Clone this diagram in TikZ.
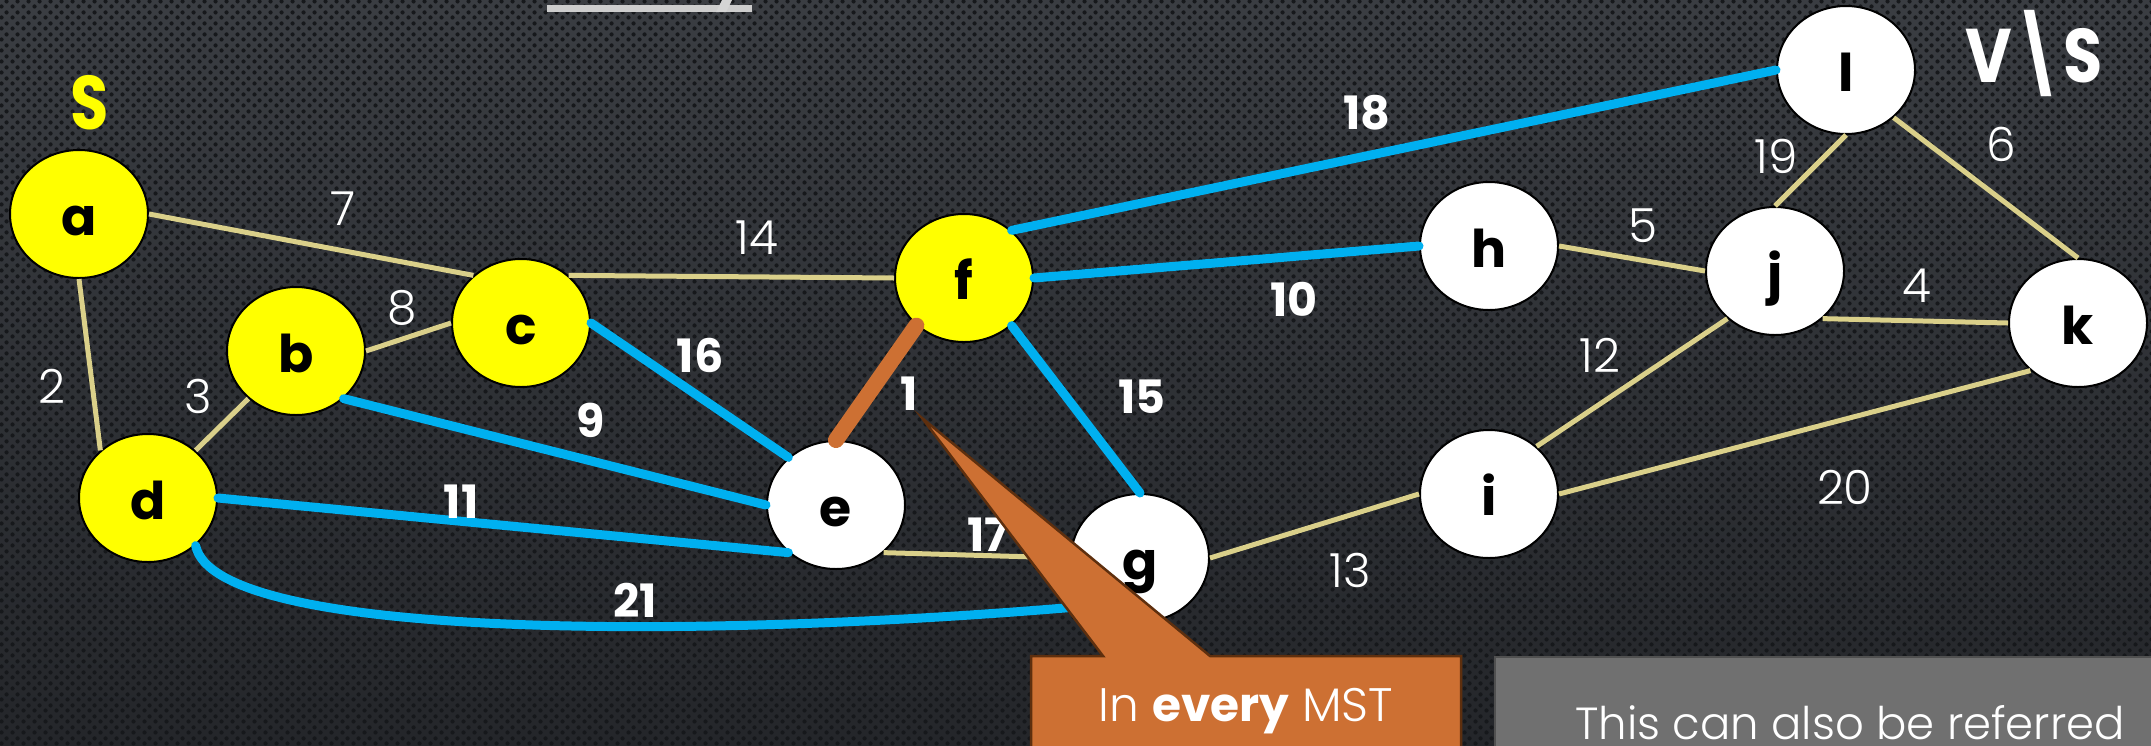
\documentclass[tikz,border=0pt]{standalone}
\usepackage{fontspec}
\setmainfont{Poppins}
\newfontfamily\lightfont{Poppins Light}
\usetikzlibrary{shapes.geometric,patterns}

\definecolor{bgtop}{RGB}{58,61,66}
\definecolor{bgbot}{RGB}{36,38,42}
\definecolor{holes}{RGB}{22,24,27}
\definecolor{tanline}{RGB}{218,208,138}
\definecolor{mstblue}{RGB}{0,176,240}
\definecolor{forced}{RGB}{205,112,51}
\definecolor{forcededge}{RGB}{94,47,14}
\definecolor{boxgray}{RGB}{112,112,112}
\definecolor{boxedge}{RGB}{80,80,80}
\definecolor{rule}{RGB}{205,205,205}
\definecolor{vyellow}{RGB}{255,255,0}

% perforated-metal texture: staggered dark holes
\pgfdeclarepatternformonly{perforated}{\pgfqpoint{0pt}{0pt}}{\pgfqpoint{11pt}{11pt}}{\pgfqpoint{11pt}{11pt}}{%
  \pgfpathcircle{\pgfqpoint{2.75pt}{2.75pt}}{2.3pt}%
  \pgfpathcircle{\pgfqpoint{8.25pt}{8.25pt}}{2.3pt}%
  \pgfusepath{fill}}

\tikzset{
  vtx/.style={ellipse, draw=black, line width=2pt, minimum width=138pt, minimum height=128pt,
    inner sep=0pt, text height=42pt, text depth=0pt, text=black,
    font=\fontsize{52}{52}\selectfont\bfseries},
  inS/.style={vtx, fill=vyellow},
  outS/.style={vtx, fill=white},
  plainedge/.style={draw=tanline, line width=5pt},
  mstedge/.style={draw=mstblue, line width=9pt, line cap=round},
  forcededgeline/.style={draw=forced, line width=16pt, line cap=round},
  wlight/.style={text=white, inner sep=0pt, font=\lightfont\fontsize{47}{47}\selectfont},
  wbold/.style={text=white, inner sep=0pt, font=\fontsize{46}{46}\selectfont\bfseries},
  setlabel/.style={inner sep=0pt, anchor=base, font=\fontsize{76}{76}\selectfont\bfseries},
}

\begin{document}
\begin{tikzpicture}[x=1pt, y=-1pt]
\useasboundingbox (0,0) rectangle (2151,745);
\clip (0,0) rectangle (2151,745);

% background
\fill[top color=bgtop, bottom color=bgbot] (0,0) rectangle (2151,745);
\fill[pattern=perforated, pattern color=holes] (0,0) rectangle (2151,745);

% title underline with a descender crossing it
\fill[rule] (547,5) rectangle (752,12);
\fill[rule!85!white] (722,0) -- (732,0) -- (726,12) -- (716,12) -- cycle;

% vertices
\node[inS]  (a) at (79,214)   {a};
\node[inS]  (b) at (296,351)  {b};
\node[inS]  (c) at (521,323)  {c};
\node[inS]  (d) at (148,498)  {d};
\node[outS] (e) at (836,505)  {e};
\node[inS]  (f) at (964,278)  {f};
\node[outS] (g) at (1140,558) {g};
\node[outS] (h) at (1489,246) {h};
\node[outS] (i) at (1489,494) {i};
\node[outS] (j) at (1775,271) {j};
\node[outS] (k) at (2078,323) {k};
\node[outS] (l) at (1846,70)  {l};

% ordinary edges
\draw[plainedge] (a.east) -- (c.135);
\draw[plainedge] (a.south) -- (d.135);
\draw[plainedge] (b.225) -- (d.45);
\draw[plainedge] (b.east) -- (c.west);
\draw[plainedge] (c.45) -- (f.west);
\draw[plainedge] (e.-45) -- (g.west);
\draw[plainedge] (g.east) -- (i.west);
\draw[plainedge] (h.east) -- (j.west);
\draw[plainedge] (i.45) -- (j.225);
\draw[plainedge] (i.east) -- (k.225);
\draw[plainedge] (j.north) -- (l.south);
\draw[plainedge] (l.-45) -- (k.north);
\draw[plainedge] (j.-45) -- (k.west);

% edges crossing the cut
\draw[mstedge] (c.east) -- (e.135);
\draw[mstedge] (b.-45) -- (e.west);
\draw[mstedge] (d.east) -- (e.225);
\draw[mstedge] (d.-45) .. controls (215,640) and (700,640) .. (g.225);
\draw[mstedge] (f.-45) -- (g.north);
\draw[mstedge] (f.east) -- (h.west);
\draw[mstedge] (f.45) -- (l.west);
\draw[forcededgeline] (e.north) -- (f.225);

% weights
\node[wlight] (w7)  at (343,209)  {7};
\node[wlight] (w2)  at (52,386)   {2};
\node[wlight] (w3)  at (198,396)  {3};
\node[wlight] (w8)  at (402,308)  {8};
\node[wlight] (w14) at (757,238)  {14};
\node[wlight] (w13) at (1350,570) {13};
\node[wlight] (w19) at (1776,156) {19};
\node[wlight] (w5)  at (1643,226) {5};
\node[wlight] (w6)  at (2001,144) {6};
\node[wlight] (w4)  at (1917,286) {4};
\node[wlight] (w12) at (1600,355) {12};
\node[wlight] (w20) at (1845,487) {20};
\node[wbold]  (w11) at (461,502)  {11};
\node[wbold]  (w16) at (700,355)  {16};
\node[wbold]  (w9)  at (591,420)  {9};
\node[wbold]  (w1)  at (909,394)  {1};
\node[wbold]  (w17) at (988,535)  {17};
\node[wbold]  (w21) at (635,600)  {21};
\node[wbold]  (w10) at (1294,299) {10};
\node[wbold]  (w15) at (1142,397) {15};
\node[wbold]  (w18) at (1367,113) {18};

% the two sides of the cut
\node[setlabel, text=vyellow] (S)  at (90,129)   {\scalebox{0.82}[1]{S}};
\node[setlabel, text=white]   (VS) at (2034,82)  {\scalebox{0.84}[1]{V\textbackslash S}};

% callout pointing at the light edge
\draw[fill=forced, draw=forcededge, line width=2.5pt, line join=miter]
  (1031,656) -- (1103,656) -- (922,418) -- (1210,656) -- (1461,656)
  -- (1461,780) -- (1031,780) -- cycle;
\node[anchor=base, text=white, inner sep=0pt, text depth=0pt,
      font=\lightfont\fontsize{47}{47}\selectfont]
  (note) at (1246,721) {In {\fontspec{Poppins}\bfseries every} MST};

% side remark box
\draw[fill=boxgray, draw=boxedge, line width=2.5pt] (1495,657) rectangle (2180,780);
\node[anchor=base west, text=white, inner sep=0pt, text depth=0pt,
      font=\lightfont\fontsize{45}{45}\selectfont]
  (remark) at (1575,739) {This can also be referred};
\end{tikzpicture}
\end{document}
